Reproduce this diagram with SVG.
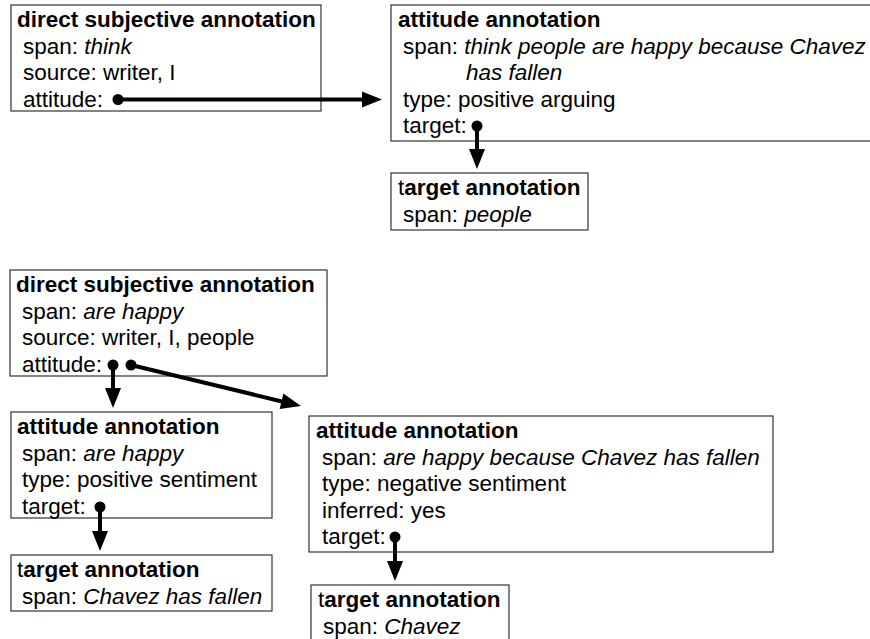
<svg xmlns="http://www.w3.org/2000/svg" width="870" height="639" viewBox="0 0 870 639">
  <style>
    .box { fill: #fff; stroke: #333; stroke-width: 1.2; }
    text { font-family: "Liberation Sans", Arial, Helvetica, sans-serif; font-size: 22.5px; fill: #000; }
    .b { font-weight: bold; }
    .i { font-style: italic; }
    .wire { stroke: #000; stroke-width: 4; fill: none; }
    .dot { fill: #000; }
    .head { fill: #000; }
  </style>
  <rect width="870" height="639" fill="#fff"/>

  <!-- upper example -->
  <g id="ds1">
    <rect class="box" x="11" y="5" width="310" height="106"/>
    <text class="b" x="17" y="27">direct subjective annotation</text>
    <text x="23" y="53.5">span: <tspan class="i">think</tspan></text>
    <text x="23" y="80">source: writer, I</text>
    <text x="23" y="106.5">attitude:</text>
  </g>

  <g id="att1">
    <rect class="box" x="391" y="5" width="500" height="136"/>
    <text class="b" x="398" y="27">attitude annotation</text>
    <text x="403" y="53.5">span: <tspan class="i">think people are happy because Chavez</tspan></text>
    <text class="i" x="466" y="80">has fallen</text>
    <text x="403" y="106.5">type: positive arguing</text>
    <text x="403" y="133">target:</text>
  </g>

  <g id="tgt1">
    <rect class="box" x="391" y="173" width="197" height="57"/>
    <text x="398" y="195">t<tspan class="b">arget annotation</tspan></text>
    <text x="403" y="221.5">span: <tspan class="i">people</tspan></text>
  </g>

  <!-- lower example -->
  <g id="ds2">
    <rect class="box" x="10" y="270" width="317" height="106"/>
    <text class="b" x="16" y="292">direct subjective annotation</text>
    <text x="22" y="318.5">span: <tspan class="i">are happy</tspan></text>
    <text x="22" y="345">source: writer, I, people</text>
    <text x="22" y="371.5">attitude:</text>
  </g>

  <g id="att2">
    <rect class="box" x="11" y="412" width="261" height="106"/>
    <text class="b" x="17" y="434">attitude annotation</text>
    <text x="22" y="460.5">span: <tspan class="i">are happy</tspan></text>
    <text x="22" y="487">type: positive sentiment</text>
    <text x="22" y="513.5">target:</text>
  </g>

  <g id="tgt2">
    <rect class="box" x="11" y="555" width="261" height="56"/>
    <text x="17" y="577">t<tspan class="b">arget annotation</tspan></text>
    <text x="22" y="603.5">span: <tspan class="i">Chavez has fallen</tspan></text>
  </g>

  <g id="att3">
    <rect class="box" x="309" y="416" width="464" height="136"/>
    <text class="b" x="316" y="438">attitude annotation</text>
    <text x="322" y="464.5">span: <tspan class="i">are happy because Chavez has fallen</tspan></text>
    <text x="322" y="491">type: negative sentiment</text>
    <text x="322" y="517.5">inferred: yes</text>
    <text x="322" y="544">target:</text>
  </g>

  <g id="tgt3">
    <rect class="box" x="311" y="585" width="198" height="60"/>
    <text x="318" y="607">t<tspan class="b">arget annotation</tspan></text>
    <text x="323" y="633.5">span: <tspan class="i">Chavez</tspan></text>
  </g>

  <!-- pointers: dot at the slot, line, filled arrowhead -->
  <g id="connectors">
    <circle class="dot" cx="118" cy="99.5" r="5.5"/>
    <line class="wire" x1="118" y1="99.5" x2="364" y2="99.5"/>
    <polygon class="head" points="382,99.5 362,91.5 362,107.5"/>

    <circle class="dot" cx="477" cy="126" r="5.5"/>
    <line class="wire" x1="477" y1="126" x2="477" y2="152"/>
    <polygon class="head" points="477,169 469,149 485,149"/>

    <circle class="dot" cx="113" cy="365" r="5.5"/>
    <line class="wire" x1="113" y1="365" x2="113" y2="390"/>
    <polygon class="head" points="113,408 105,388 121,388"/>

    <circle class="dot" cx="131" cy="365" r="5.5"/>
    <line class="wire" x1="131" y1="365" x2="283" y2="401.7"/>
    <polygon class="head" points="301,406 279.7,409.1 283.4,393.5"/>

    <circle class="dot" cx="100" cy="507" r="5.5"/>
    <line class="wire" x1="100" y1="507" x2="100" y2="533"/>
    <polygon class="head" points="100,551 92,531 108,531"/>

    <circle class="dot" cx="395" cy="537" r="5.5"/>
    <line class="wire" x1="395" y1="537" x2="395" y2="563"/>
    <polygon class="head" points="395,581 387,561 403,561"/>
  </g>
</svg>
